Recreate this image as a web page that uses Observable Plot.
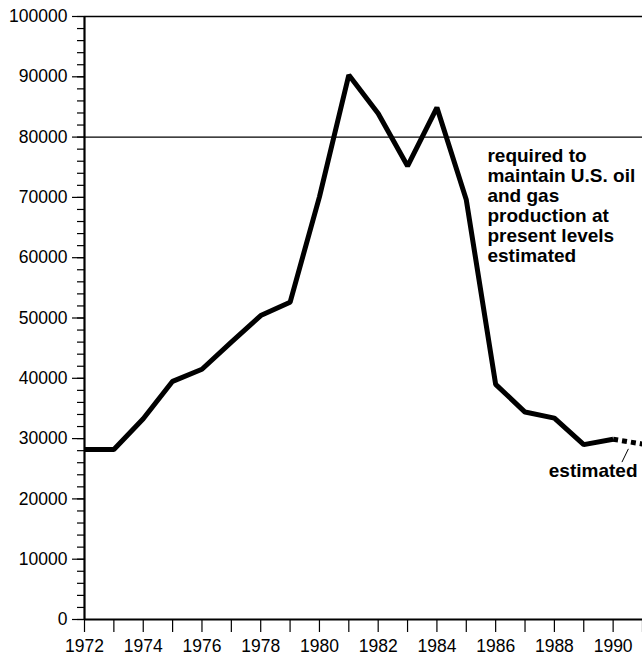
<!DOCTYPE html>
<html>
<head>
<meta charset="utf-8">
<script src="https://cdn.jsdelivr.net/npm/d3@7"></script>
<script src="https://cdn.jsdelivr.net/npm/@observablehq/plot@0.6"></script>
<style>
  html, body { margin: 0; padding: 0; background: #fff; }
  #chart svg { display: block; }
  #chart svg text { font-family: 'Liberation Sans', Arial, sans-serif; }
</style>
</head>
<body>
<div id="chart"></div>
<script>
// Data
const years = [1972, 1973, 1974, 1975, 1976, 1977, 1978, 1979, 1980, 1981, 1982, 1983, 1984, 1985, 1986, 1987, 1988, 1989, 1990];
const values = [28200, 28200, 33300, 39500, 41500, 46000, 50400, 52600, 70100, 90300, 83900, 75200, 84900, 69600, 39000, 34400, 33400, 29000, 29900];
const estYears = [1990, 1991];
const estValues = [29900, 29100];
const requiredLevel = 80000;
const yMajorTicks = [0, 10000, 20000, 30000, 40000, 50000, 60000, 70000, 80000, 90000, 100000];
const yMinorTicks = d3.range(0, 100001, 2000);
const xTicks = d3.range(1972, 1992);
const xLabelYears = [1972, 1974, 1976, 1978, 1980, 1982, 1984, 1986, 1988, 1990];
const noteText = ["required to\nmaintain U.S. oil\nand gas\nproduction at\npresent levels\nestimated"];
const noteX = [1985.72];
const noteY = [78200];
const estLabel = ["estimated"];
const estLabelX = [1990.83];
const estLabelY = [24700];
const leader = [{x1: 1990.52, y1: 28300, x2: 1990.3, y2: 26100}];

const solid = years.map((y, i) => ({year: y, value: values[i]}));
const dashed = estYears.map((y, i) => ({year: y, value: estValues[i]}));

const chart = Plot.plot({
  width: 642,
  height: 657,
  marginLeft: 84,
  marginRight: 0,
  marginTop: 16,
  marginBottom: 38,
  style: {fontFamily: "'Liberation Sans', Arial, sans-serif", fontSize: "17px", color: "#000", background: "#fff", overflow: "visible"},
  x: {domain: [1972, 1991]},
  y: {domain: [0, 100000]},
  marks: [
    Plot.axisY({ticks: yMinorTicks, tickSize: 7, tickFormat: () => "", strokeWidth: 1.2}),
    Plot.axisY({ticks: yMajorTicks, tickSize: 12, tickPadding: 5, tickFormat: d => String(d), strokeWidth: 1.2, label: null}),
    Plot.axisX({ticks: xTicks, tickSize: 13, tickPadding: 7, strokeWidth: 1.2,
      tickFormat: d => xLabelYears.includes(d) ? String(d) : "", label: null}),
    Plot.ruleY([requiredLevel], {stroke: "#000", strokeWidth: 1.2}),
    Plot.ruleY([100000], {stroke: "#000", strokeWidth: 1.5}),
    Plot.ruleY([0], {stroke: "#000", strokeWidth: 2.2}),
    Plot.ruleX([1972], {stroke: "#000", strokeWidth: 2.2}),
    Plot.line(solid, {x: "year", y: "value", stroke: "#000", strokeWidth: 5, strokeLinejoin: "miter", strokeLinecap: "butt"}),
    Plot.line(dashed, {x: "year", y: "value", stroke: "#000", strokeWidth: 5, strokeDasharray: "5,4", strokeLinecap: "butt"}),
    Plot.link(leader, {x1: "x1", y1: "y1", x2: "x2", y2: "y2", stroke: "#000", strokeWidth: 1}),
    Plot.text(noteText, {x: noteX, y: noteY, text: d => d, textAnchor: "start", lineAnchor: "top",
      fontWeight: "bold", fontSize: 19, lineHeight: 1.05, fill: "#000"}),
    Plot.text(estLabel, {x: estLabelX, y: estLabelY, text: d => d, textAnchor: "end", lineAnchor: "middle",
      fontWeight: "bold", fontSize: 19, fill: "#000"})
  ]
});
// enlarge the numeric tick labels (inline style wins over inherited sizes)
chart.querySelectorAll("text").forEach(t => {
  if (/^\d+$/.test(t.textContent.trim())) t.style.fontSize = "17.5px";
});
document.getElementById("chart").appendChild(chart);
</script>
</body>
</html>
